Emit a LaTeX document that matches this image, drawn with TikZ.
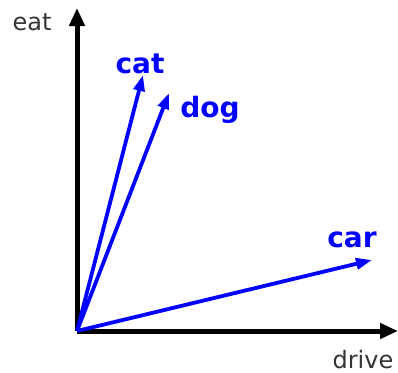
\documentclass[tikz,border=0pt]{standalone}
\usepackage{fontspec}
\setmainfont{DejaVu Sans}
\usetikzlibrary{arrows.meta}
\begin{document}
\begin{tikzpicture}[x=1pt,y=-1pt,
  axis/.style={line width=5pt,-{Triangle[length=18pt,width=15pt]}},
  vec/.style={blue,line width=3.8pt,-{Triangle[length=16pt,width=11pt]}},
  vlabel/.style={blue,font=\fontsize{28}{28}\selectfont\bfseries,inner sep=0pt},
  alabel/.style={black!80,font=\fontsize{24}{24}\selectfont,inner sep=0pt}]
\useasboundingbox (0,0) rectangle (398,372);
\coordinate (o) at (77,331);
\coordinate (ytop) at (77,8);
\coordinate (xend) at (398,331);
\coordinate (cat) at (143,75);
\coordinate (dog) at (169,93);
\coordinate (car) at (372,260);
\draw[axis] (o) -- (ytop);
\draw[axis] (o) -- (xend);
\draw[vec] (o) -- (cat);
\draw[vec] (o) -- (dog);
\draw[vec] (o) -- (car);
\node[vlabel] (lcat) at (140,64) {cat};
\node[vlabel] (ldog) at (210,110) {dog};
\node[vlabel] (lcar) at (352,240) {car};
\node[alabel] (leat) at (32,22) {eat};
\node[alabel] (ldrive) at (363,360) {drive};
\end{tikzpicture}
\end{document}
